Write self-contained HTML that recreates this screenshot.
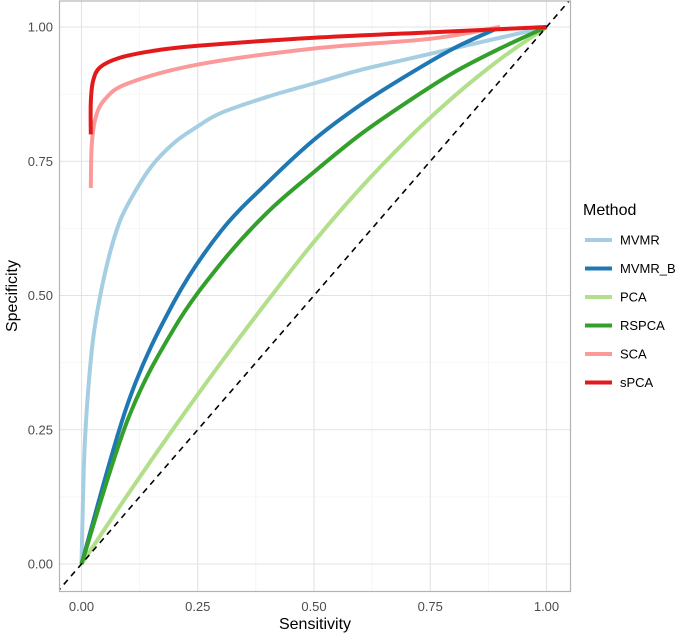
<!DOCTYPE html>
<html><head><meta charset="utf-8"><style>
body{margin:0;background:#fff;font-family:"Liberation Sans",sans-serif}
text{font-family:"Liberation Sans",sans-serif}
</style></head><body>
<svg id="chart" width="698" height="634"></svg>
<script>
const seriesNames=["MVMR","MVMR_B","PCA","RSPCA","SCA","sPCA"];
const seriesColors=["#a6cee3","#1f78b4","#b2df8a","#33a02c","#fb9a99","#e31a1c"];
const xMVMR=[0,0.005,0.01,0.02,0.03,0.05,0.075,0.1,0.15,0.2,0.25,0.3,0.4,0.5,0.6,0.7,0.8,0.9,1];
const yMVMR=[0,0.18,0.27,0.38,0.45,0.54,0.62,0.67,0.74,0.785,0.815,0.84,0.87,0.895,0.92,0.94,0.96,0.98,1];
const xMVMRB=[0,0.1,0.2,0.3,0.4,0.5,0.6,0.7,0.8,0.9];
const yMVMRB=[0,0.3,0.49,0.62,0.71,0.79,0.855,0.91,0.96,1];
const xPCA=[0,0.1,0.2,0.3,0.4,0.5,0.6,0.7,0.8,0.9,1];
const yPCA=[0,0.13,0.255,0.375,0.49,0.6,0.7,0.79,0.87,0.94,1];
const xRSPCA=[0,0.1,0.2,0.3,0.4,0.5,0.6,0.7,0.8,0.9,1];
const yRSPCA=[0,0.27,0.44,0.56,0.655,0.73,0.8,0.86,0.915,0.96,1];
const xSCA=[0.02,0.022,0.03,0.05,0.1,0.25,0.5,0.75,0.9];
const ySCA=[0.70,0.78,0.83,0.865,0.895,0.93,0.96,0.978,1];
const xSPCA=[0.02,0.02,0.025,0.04,0.08,0.15,0.25,0.5,0.75,1];
const ySPCA=[0.80,0.86,0.9,0.925,0.942,0.955,0.965,0.98,0.99,1];
const seriesX=[xMVMR,xMVMRB,xPCA,xRSPCA,xSCA,xSPCA];
const seriesY=[yMVMR,yMVMRB,yPCA,yRSPCA,ySCA,ySPCA];
const xTicks=[0,0.25,0.5,0.75,1];
const yTicks=[0,0.25,0.5,0.75,1];
const xTickLabels=["0.00","0.25","0.50","0.75","1.00"];
const yTickLabels=["0.00","0.25","0.50","0.75","1.00"];

const NS="http://www.w3.org/2000/svg";
const svg=document.getElementById("chart");
const PL=59.5,PR=570.5,PT=1,PB=591.5;
const X=v=>81.5+v*465, Y=v=>564-v*537;
function mk(t,a,p){const e=document.createElementNS(NS,t);for(const k in a)e.setAttribute(k,a[k]);(p||svg).appendChild(e);return e;}
const defs=mk("defs",{});const cp=mk("clipPath",{id:"cp"},defs);mk("rect",{x:PL,y:PT,width:PR-PL,height:PB-PT},cp);
for(let i=0;i<4;i++){const v=0.125+0.25*i;
 let g=mk("line",{x1:X(v),x2:X(v),y1:PT,y2:PB,stroke:"#f0f0f0","stroke-width":0.6});
 
 
 g=mk("line",{y1:Y(v),y2:Y(v),x1:PL,x2:PR,stroke:"#f0f0f0","stroke-width":0.6});
 
 }
xTicks.forEach((v,i)=>{let g=mk("line",{x1:X(v),x2:X(v),y1:PT,y2:PB,stroke:"#e3e3e3","stroke-width":1.1});
 
 
 let t=mk("text",{x:X(v),y:611,"text-anchor":"middle","font-size":13,fill:"#4d4d4d"});t.textContent=xTickLabels[i];
 
 });
yTicks.forEach((v,i)=>{let g=mk("line",{y1:Y(v),y2:Y(v),x1:PL,x2:PR,stroke:"#e3e3e3","stroke-width":1.1});
 
 
 let t=mk("text",{x:53,y:Y(v)+4.5,"text-anchor":"end","font-size":13,fill:"#4d4d4d"});t.textContent=yTickLabels[i];
 
 });
function pathFor(xs,ys){const p=xs.map((x,i)=>[X(x),Y(ys[i])]);let d="M"+p[0][0]+","+p[0][1];
 for(let i=0;i<p.length-1;i++){const p0=p[Math.max(0,i-1)],p1=p[i],p2=p[i+1],p3=p[Math.min(p.length-1,i+2)];
  d+=` C${p1[0]+(p2[0]-p0[0])/6},${p1[1]+(p2[1]-p0[1])/6} ${p2[0]-(p3[0]-p1[0])/6},${p2[1]-(p3[1]-p1[1])/6} ${p2[0]},${p2[1]}`;}
 return d;}
const g=mk("g",{"clip-path":"url(#cp)"});
seriesNames.forEach((n,i)=>{const e=mk("path",{d:pathFor(seriesX[i],seriesY[i]),fill:"none",stroke:seriesColors[i],"stroke-width":4,"stroke-linejoin":"round"},g);
 
 });
const diag=mk("line",{x1:X(-0.1),y1:Y(-0.1),x2:X(1.1),y2:Y(1.1),stroke:"#000","stroke-width":1.6,"stroke-dasharray":"6,5"},g);


const fr=mk("rect",{x:PL,y:PT,width:PR-PL,height:PB-PT,fill:"none",stroke:"#b3b3b3","stroke-width":1.2});


let t=mk("text",{x:315,y:629,"text-anchor":"middle","font-size":16,fill:"#000"});t.textContent="Sensitivity";


t=mk("text",{x:0,y:0,transform:"translate(17,296) rotate(-90)","text-anchor":"middle","font-size":16,fill:"#000"});t.textContent="Specificity";


t=mk("text",{x:583,y:215,"font-size":16,fill:"#000"});t.textContent="Method";


seriesNames.forEach((n,i)=>{const y=240+i*28.5;
 const l=mk("line",{x1:585,x2:612,y1:y,y2:y,stroke:seriesColors[i],"stroke-width":4});
 
 
 const tt=mk("text",{x:620,y:y+4.5,"font-size":13,fill:"#000"});tt.textContent=n;
 
 });
</script>
</body></html>
